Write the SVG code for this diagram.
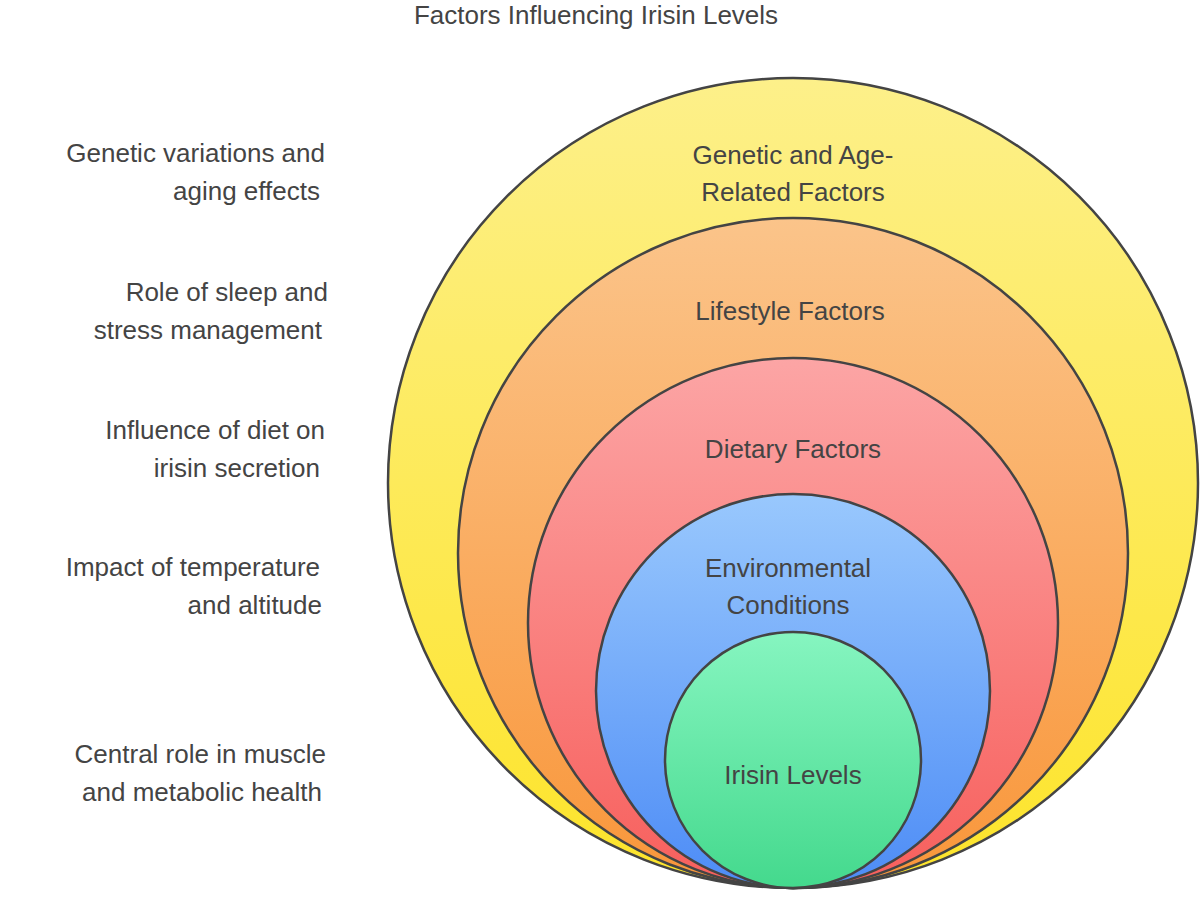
<svg xmlns="http://www.w3.org/2000/svg" width="1200" height="897" viewBox="0 0 1200 897">
<style>
text{font-family:"Liberation Sans",Arial,sans-serif;fill:#444;font-size:26px}
.c{stroke:#444;stroke-width:2.5}
.l{text-anchor:end}
.m{text-anchor:middle}
</style>
<defs>
<linearGradient id="gy" x1="0" y1="0" x2="0" y2="1"><stop offset="0" stop-color="#fdf08a"/><stop offset="1" stop-color="#fde42a"/></linearGradient>
<linearGradient id="go" x1="0" y1="0" x2="0" y2="1"><stop offset="0" stop-color="#fbc48a"/><stop offset="1" stop-color="#f9963a"/></linearGradient>
<linearGradient id="gr" x1="0" y1="0" x2="0" y2="1"><stop offset="0" stop-color="#fca5a5"/><stop offset="1" stop-color="#f75f5c"/></linearGradient>
<linearGradient id="gb" x1="0" y1="0" x2="0" y2="1"><stop offset="0" stop-color="#99c8fd"/><stop offset="1" stop-color="#4d8cf6"/></linearGradient>
<linearGradient id="gg" x1="0" y1="0" x2="0" y2="1"><stop offset="0" stop-color="#86f5c0"/><stop offset="1" stop-color="#44d98d"/></linearGradient>
</defs>
<rect width="1200" height="897" fill="#fff"/>
<text class="m" x="596" y="24">Factors Influencing Irisin Levels</text>
<g id="genetic"><circle class="c" cx="793" cy="483" r="405" fill="url(#gy)"/><text class="m" x="793" y="164">Genetic and Age-</text><text class="m" x="793" y="201">Related Factors</text></g>
<g id="lifestyle"><circle class="c" cx="793" cy="553" r="335" fill="url(#go)"/><text class="m" x="790" y="320">Lifestyle Factors</text></g>
<g id="dietary"><circle class="c" cx="793" cy="623" r="265" fill="url(#gr)"/><text class="m" x="793" y="458">Dietary Factors</text></g>
<g id="environmental"><circle class="c" cx="793" cy="691" r="197" fill="url(#gb)"/><text class="m" x="788" y="577">Environmental</text><text class="m" x="788" y="614">Conditions</text></g>
<g id="irisin"><circle class="c" cx="793" cy="760" r="128" fill="url(#gg)"/><text class="m" x="793" y="784">Irisin Levels</text></g>
<g id="labels">
<text class="l" x="325" y="162">Genetic variations and</text><text class="l" x="320" y="200">aging effects</text>
<text class="l" x="328" y="301">Role of sleep and</text><text class="l" x="322" y="339">stress management</text>
<text class="l" x="325" y="439">Influence of diet on</text><text class="l" x="320" y="477">irisin secretion</text>
<text class="l" x="320" y="576">Impact of temperature</text><text class="l" x="322" y="614">and altitude</text>
<text class="l" x="326" y="763">Central role in muscle</text><text class="l" x="322" y="801">and metabolic health</text>
</g>
<g id="connectors"/>
</svg>
